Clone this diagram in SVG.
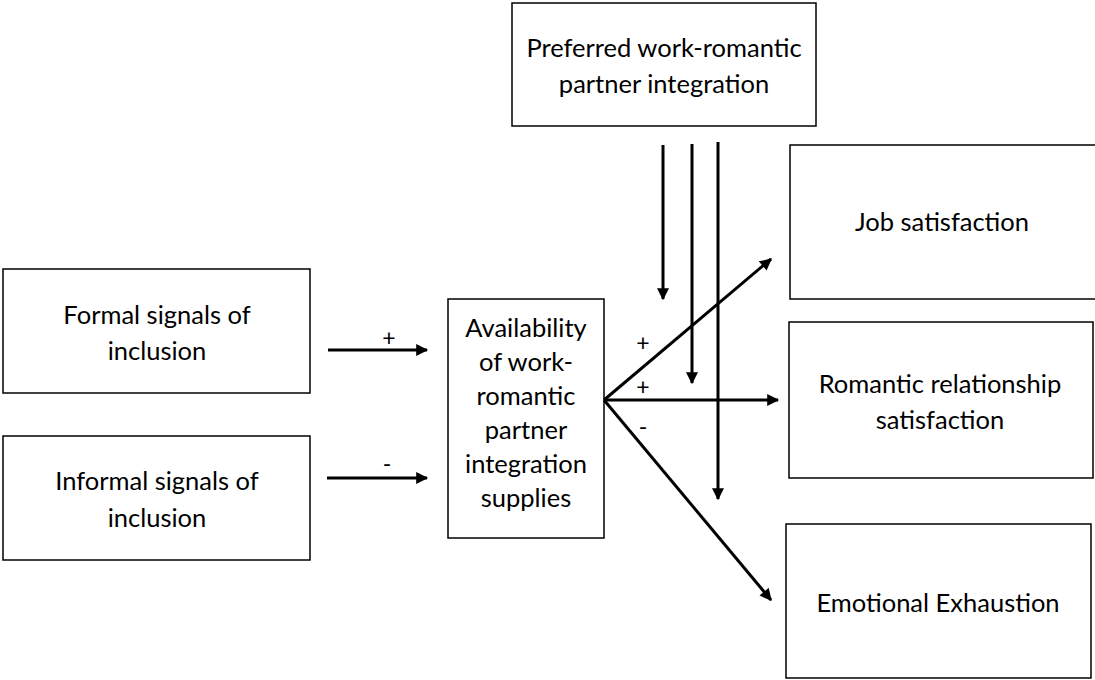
<svg xmlns="http://www.w3.org/2000/svg" width="1095" height="680" viewBox="0 0 1095 680">
<style>
.box{fill:#fff;stroke:#000;stroke-width:1.5}
.t{font-family:Lato,"Open Sans",sans-serif;font-size:25.5px;fill:#000;text-anchor:middle}
.s{font-family:Lato,"Open Sans",sans-serif;font-size:23px;fill:#000;text-anchor:middle}
.c{stroke:#000;stroke-width:3;fill:none;marker-end:url(#ah)}
</style>
<defs>
<marker id="ah" viewBox="0 0 10 10" refX="9" refY="5" markerWidth="4.5" markerHeight="4" orient="auto" markerUnits="strokeWidth">
<path d="M0,0 L10,5 L0,10 z" fill="#000"/>
</marker>
</defs>
<rect width="1095" height="680" fill="#fff"/>
<g id="top">
<rect class="box" x="512" y="3" width="304" height="123"/>
<text class="t" x="664" y="57">Preferred work-romantic</text>
<text class="t" x="664" y="93">partner integration</text>
</g>
<g id="formal">
<rect class="box" x="3" y="269" width="307" height="124"/>
<text class="t" x="157" y="324">Formal signals of</text>
<text class="t" x="157" y="360">inclusion</text>
</g>
<g id="informal">
<rect class="box" x="3" y="436" width="307" height="124"/>
<text class="t" x="157" y="490">Informal signals of</text>
<text class="t" x="157" y="527">inclusion</text>
</g>
<g id="avail">
<rect class="box" x="448" y="299" width="156" height="239"/>
<text class="t" x="526" y="337">Availability</text>
<text class="t" x="526" y="371">of work-</text>
<text class="t" x="526" y="405">romantic</text>
<text class="t" x="526" y="439">partner</text>
<text class="t" x="526" y="473">integration</text>
<text class="t" x="526" y="507">supplies</text>
</g>
<g id="job">
<rect class="box" x="790" y="145" width="310" height="154"/>
<text class="t" x="942" y="231">Job satisfaction</text>
</g>
<g id="romantic">
<rect class="box" x="789" y="322" width="304" height="156"/>
<text class="t" x="940" y="393">Romantic relationship</text>
<text class="t" x="940" y="429">satisfaction</text>
</g>
<g id="emotional">
<rect class="box" x="786" y="524" width="305" height="154"/>
<text class="t" x="938" y="612">Emotional Exhaustion</text>
</g>
<g id="connectors">
<line class="c" x1="328" y1="350" x2="427" y2="350"/>
<line class="c" x1="327" y1="478" x2="427" y2="478"/>
<line class="c" x1="604" y1="400" x2="771" y2="259"/>
<line class="c" x1="604" y1="400" x2="778" y2="400"/>
<line class="c" x1="604" y1="400" x2="771" y2="600"/>
<line class="c" x1="663" y1="145" x2="663" y2="299"/>
<line class="c" x1="692" y1="144" x2="692" y2="383"/>
<line class="c" x1="718" y1="142" x2="718" y2="499"/>
<text class="s" x="389" y="346">+</text>
<text class="s" x="387" y="472">-</text>
<text class="s" x="643" y="351">+</text>
<text class="s" x="643" y="395">+</text>
<text class="s" x="643" y="435">-</text>
</g>
</svg>
